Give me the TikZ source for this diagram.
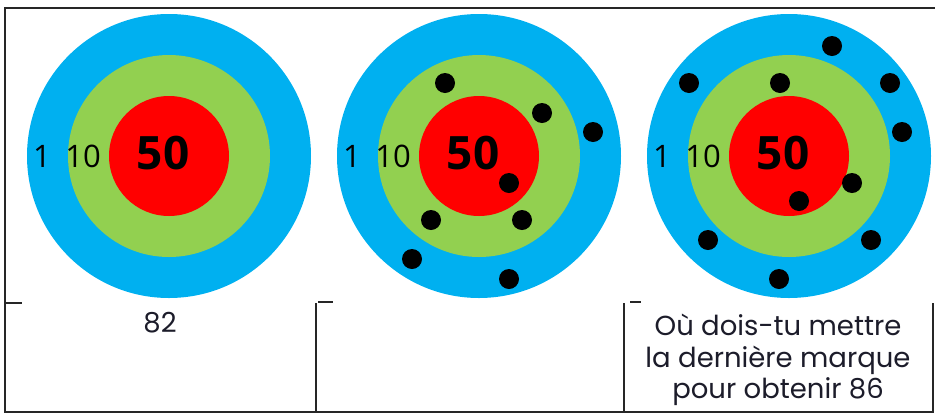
\documentclass[tikz,border=0pt]{standalone}
\usepackage{fontspec}
\setmainfont{Open Sans}
\newfontfamily\gothic{Poppins}
\usetikzlibrary{positioning}
\definecolor{ringblue}{HTML}{00B0F0}
\definecolor{ringgreen}{HTML}{92D050}
\definecolor{ringred}{HTML}{FF0000}
\definecolor{inkdark}{HTML}{1C1C2A}

\begin{document}
\begin{tikzpicture}[
  x=1pt, y=-1pt,
  every node/.style={inner sep=0pt},
  ring/.style={circle, minimum size=#1},
  hit/.style={circle, fill=black, minimum size=20pt},
  frameline/.style={line width=1.4pt, draw=black!85},
  score/.style={font=\fontsize{31}{31}\selectfont},
  bigscore/.style={font=\bfseries\fontsize{46}{46}\selectfont},
  caption/.style={font=\gothic\fontsize{27.5}{31.5}\selectfont, align=center, text=inkdark}
]
  \useasboundingbox (0,0) rectangle (935,416);

  % frame and answer cells
  \draw[frameline] (935,8) -- (5,8) -- (5,412) -- (933,412) -- (933,303);
  \draw[frameline] (316,303) -- (316,412);
  \draw[frameline] (624,303) -- (624,412);
  \draw[frameline] (5,303) -- (22,303);
  \draw[frameline] (318,302) -- (333,302);
  \draw[frameline] (630,302) -- (641,302);

  % the three targets
  \foreach \i/\cx in {1/169, 2/479, 3/789} {
    \node[ring=284pt, fill=ringblue]  (outer\i)  at (\cx,156) {};
    \node[ring=202pt, fill=ringgreen] (middle\i) at (\cx,156) {};
    \node[ring=120pt, fill=ringred]   (bull\i)   at (\cx,156) {};
    \node[score]    (one\i)   at (\cx-127,156) {1};
    \node[score]    (ten\i)   at (\cx-86,156)  {10};
    \node[bigscore] (fifty\i) at (\cx-6,153)   {50};
  }

  % hits on the second target
  \foreach \n/\hx/\hy in {a/445/83, b/542/113, c/593/132, d/509/183,
                          e/431/220, f/522/220, g/412/259, h/509/279}
    \node[hit] (hitB\n) at (\hx,\hy) {};

  % hits on the third target
  \foreach \n/\hx/\hy in {a/832/46, b/689/83, c/780/83, d/890/83, e/902/132,
                          f/852/183, g/799/201, h/708/240, i/871/240, j/779/279}
    \node[hit] (hitC\n) at (\hx,\hy) {};

  % answers
  \node[caption] (answerA) at (160,323) {82};
  \node[caption] (answerC) at (778,360)
    {Où dois-tu mettre\\la dernière marque\\pour obtenir 86};
\end{tikzpicture}
\end{document}
